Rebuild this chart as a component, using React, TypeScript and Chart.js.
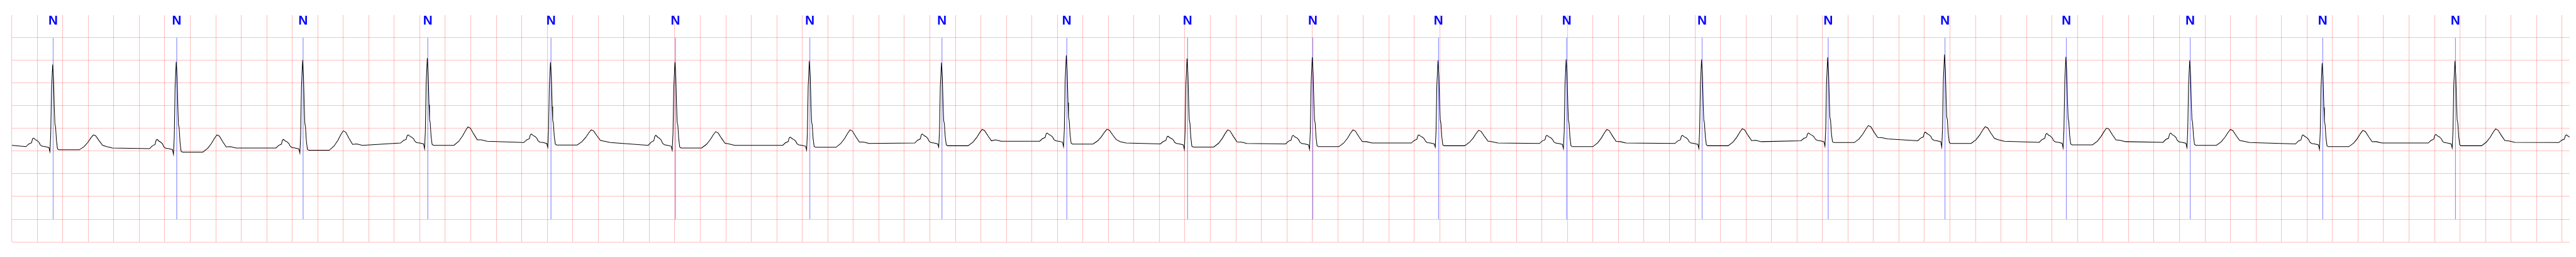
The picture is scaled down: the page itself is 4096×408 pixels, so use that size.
import React, { useEffect, useRef } from 'react';
import { Chart, registerables } from 'chart.js';

Chart.register(...registerables);

// ---- geometry of the output (reference scaled by 0.544) ----
const SCALE = 0.544;
const CANVAS_W = 4096;
const CANVAS_H = 408;

// ---- axes ----
const X_MIN = 0;
const X_MAX = 20.06; // seconds
const X_STEP = 0.2; // one grid box
const Y_MIN = -2;
const Y_MAX = 3; // mV
const Y_STEP = 0.5;

// ---- beat annotations ----
const BEAT_LABELS = ['N', 'N', 'N', 'N', 'N', 'N', 'N', 'N', 'N', 'N', 'N', 'N', 'N', 'N', 'N', 'N', 'N', 'N', 'N', 'N'];
const ANNOT_TIMES = [0.325, 1.294, 2.285, 3.263, 4.229, 5.205, 6.259, 7.295, 8.274, 9.221, 10.203, 11.189, 12.194, 13.256, 14.245, 15.161, 16.113, 17.084, 18.123, 19.164];
const ANNOT_TOP = 2.5;
const ANNOT_BOTTOM = -1.5;

// ---- per-beat values (last entry is the partial beat at the right edge) ----
const R_TIMES = [0.321, 1.290, 2.281, 3.259, 4.225, 5.201, 6.255, 7.291, 8.270, 9.217, 10.199, 11.185, 12.190, 13.252, 14.241, 15.157, 16.109, 17.080, 18.119, 19.160, 20.184];
const R_PEAKS = [1.91, 1.97, 2.005, 2.05, 1.96, 1.96, 1.99, 1.95, 2.11, 2.045, 2.07, 2.0, 2.025, 2.02, 2.07, 2.13, 2.08, 2.0, 1.94, 1.99, 2.0];
const Q_VALUES = [-0.01, -0.07, -0.04, 0.05, 0.086, 0.02, 0.025, 0.09, 0.10, 0.04, 0.04, 0.09, 0.055, 0.06, 0.11, 0.09, 0.07, 0.08, 0.04, 0.07, 0.08];
const P_PEAKS = [0.29, 0.26, 0.26, 0.36, 0.38, 0.35, 0.31, 0.38, 0.40, 0.33, 0.35, 0.36, 0.35, 0.35, 0.40, 0.42, 0.39, 0.40, 0.36, 0.37, 0.36];
const PR_LEVELS = [0.10, 0.055, 0.07, 0.18, 0.19, 0.13, 0.13, 0.18, 0.22, 0.16, 0.16, 0.18, 0.17, 0.17, 0.23, 0.23, 0.195, 0.195, 0.16, 0.18, 0.19];
const ST_LEVELS = [0.03, -0.02, 0.02, 0.13, 0.136, 0.07, 0.086, 0.12, 0.157, 0.09, 0.10, 0.12, 0.10, 0.12, 0.19, 0.17, 0.14, 0.13, 0.10, 0.12, 0.12];
const T_PEAKS = [0.36, 0.36, 0.45, 0.535, 0.47, 0.43, 0.47, 0.48, 0.485, 0.47, 0.47, 0.46, 0.48, 0.495, 0.565, 0.54, 0.51, 0.48, 0.46, 0.49, 0.48];
const POST_T_LEVELS = [0.07, 0.07, 0.13, 0.22, 0.19, 0.13, 0.17, 0.22, 0.18, 0.17, 0.18, 0.18, 0.18, 0.21, 0.27, 0.22, 0.21, 0.19, 0.18, 0.195, 0.19];
const START_LEVEL = 0.13;

// ---- beat shape read from the first beats (offsets in s from the R peak) ----
const P_OFFSETS = [-0.209, -0.188, -0.166, -0.158, -0.150, -0.134, -0.121, -0.107, -0.097, -0.083, -0.059];
const P_SHAPE = [0, 0.3, 0.45, 0.9, 1.0, 0.8, 0.7, 0.5, 0.2, 0.05, 0];
const QRS_UP_OFFSETS = [-0.0153, -0.0091];
const QRS_UP_SHAPE = [0.144, 0.70];
const QRS_DOWN_OFFSETS = [0.0067, 0.0134, 0.0174, 0.0228, 0.0295];
const QRS_DOWN_SHAPE = [0.82, 0.45, 0.28, 0.24, 0.08];
const PRE_Q_OFFSET = -0.0295;
const PRE_Q_DROP = 0.02;
const Q_OFFSET = -0.0215;
const J_OFFSETS = [0.0376, 0.0483];
const J_RISE = [0.02, 0];
const T_OFFSETS = [0.209, 0.247, 0.276, 0.300, 0.319, 0.338, 0.365, 0.392];
const T_SHAPE = [0, 0.22, 0.5, 0.8, 1.0, 0.93, 0.6, 0.3];
const POST_T_OFFSETS = [0.424, 0.469];
const POST_T_RISE = [0.03, 0];

function buildTrace() {
  const pts: { x: number; y: number }[] = [{ x: X_MIN, y: START_LEVEL }];
  for (let i = 0; i < R_TIMES.length; i++) {
    const tR = R_TIMES[i];
    const base = PR_LEVELS[i];
    const rAmp = R_PEAKS[i] - base;
    P_OFFSETS.forEach((o, k) => pts.push({ x: tR + o, y: base + P_SHAPE[k] * (P_PEAKS[i] - base) }));
    pts.push({ x: tR + PRE_Q_OFFSET, y: base - PRE_Q_DROP });
    pts.push({ x: tR + Q_OFFSET, y: Q_VALUES[i] });
    QRS_UP_OFFSETS.forEach((o, k) => pts.push({ x: tR + o, y: base + QRS_UP_SHAPE[k] * rAmp }));
    pts.push({ x: tR, y: R_PEAKS[i] });
    QRS_DOWN_OFFSETS.forEach((o, k) => pts.push({ x: tR + o, y: base + QRS_DOWN_SHAPE[k] * rAmp }));
    J_OFFSETS.forEach((o, k) => pts.push({ x: tR + o, y: ST_LEVELS[i] + J_RISE[k] }));
    T_OFFSETS.forEach((o, k) => pts.push({ x: tR + o, y: ST_LEVELS[i] + T_SHAPE[k] * (T_PEAKS[i] - ST_LEVELS[i]) }));
    POST_T_OFFSETS.forEach((o, k) => pts.push({ x: tR + o, y: POST_T_LEVELS[i] + POST_T_RISE[k] }));
  }
  return pts;
}

function buildAnnotations() {
  const pts: { x: number; y: number | null }[] = [];
  ANNOT_TIMES.forEach((t) => {
    pts.push({ x: t, y: ANNOT_TOP });
    pts.push({ x: t, y: ANNOT_BOTTOM });
    pts.push({ x: t, y: null });
  });
  return pts;
}

const GRID_COLOR = 'rgba(255, 0, 0, 0.25)';

const labelPlugin = {
  id: 'beatLabels',
  afterDatasetsDraw(chart: any) {
    const { ctx, chartArea, scales } = chart;
    ctx.save();
    ctx.font = `bold ${38 * SCALE}px "Liberation Sans Narrow", "Liberation Sans", Arial, sans-serif`;
    ctx.fillStyle = '#0000ff';
    ctx.textAlign = 'center';
    ctx.textBaseline = 'alphabetic';
    ANNOT_TIMES.forEach((t, i) => {
      ctx.fillText(BEAT_LABELS[i], scales.x.getPixelForValue(t), chartArea.top + 27 * SCALE);
    });
    ctx.restore();
  },
};

export default function App() {
  const ref = useRef<HTMLCanvasElement | null>(null);
  useEffect(() => {
    if (!ref.current) return;
    const chart = new Chart(ref.current, {
      type: 'line',
      data: {
        datasets: [
          {
            data: buildTrace(),
            borderColor: '#000000',
            borderWidth: 1.9 * SCALE,
            pointRadius: 0,
            tension: 0,
            order: 0,
          },
          {
            data: buildAnnotations(),
            borderColor: 'rgba(0, 0, 255, 0.38)',
            borderWidth: 1.0 * SCALE,
            pointRadius: 0,
            spanGaps: false,
            order: 1,
          },
        ],
      },
      options: {
        animation: false,
        responsive: false,
        devicePixelRatio: 1,
        parsing: false as any,
        normalized: true,
        events: [],
        layout: {
          padding: { left: 34.3 * SCALE, top: 44 * SCALE, right: CANVAS_W - 7511 * SCALE, bottom: CANVAS_H - 706 * SCALE },
        },
        plugins: { legend: { display: false }, tooltip: { enabled: false }, title: { display: false } },
        scales: {
          x: {
            type: 'linear',
            min: X_MIN,
            max: X_MAX,
            border: { display: false },
            ticks: { display: false },
            grid: { color: GRID_COLOR, lineWidth: 2 * SCALE, drawTicks: false },
            afterBuildTicks: (scale: any) => {
              const ticks = [];
              for (let k = 0; X_MIN + k * X_STEP <= X_MAX + 1e-9; k++) ticks.push({ value: X_MIN + k * X_STEP });
              scale.ticks = ticks;
            },
          },
          y: {
            type: 'linear',
            min: Y_MIN,
            max: Y_MAX,
            border: { display: false },
            ticks: { display: false, stepSize: Y_STEP },
            grid: {
              color: (c: any) => (c.tick && c.tick.value >= Y_MAX - 1e-9 ? 'rgba(0,0,0,0)' : GRID_COLOR),
              lineWidth: 2 * SCALE,
              drawTicks: false,
            },
          },
        },
      },
      plugins: [labelPlugin],
    });
    return () => chart.destroy();
  }, []);
  return (
    <div style={{ position: 'absolute', left: 0, top: 0, width: CANVAS_W, height: CANVAS_H, background: '#ffffff' }}>
      <canvas ref={ref} width={CANVAS_W} height={CANVAS_H} style={{ display: 'block', width: CANVAS_W, height: CANVAS_H }} />
    </div>
  );
}
